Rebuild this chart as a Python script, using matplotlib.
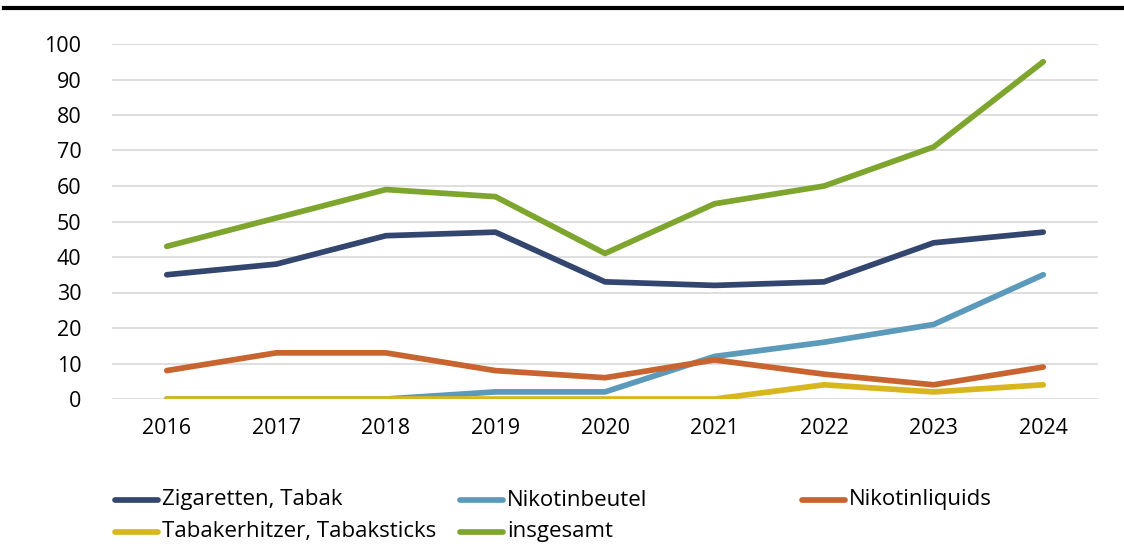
import numpy as np
import matplotlib.pyplot as plt
from matplotlib.lines import Line2D

plt.rcParams['font.family'] = ['Open Sans', 'DejaVu Sans']

years = ['2016', '2017', '2018', '2019', '2020', '2021', '2022', '2023', '2024']
zigaretten = [35, 38, 46, 47, 33, 32, 33, 44, 47]
nikotinbeutel = [0, 0, 0, 2, 2, 12, 16, 21, 35]
nikotinliquids = [8, 13, 13, 8, 6, 11, 7, 4, 9]
tabakerhitzer = [0, 0, 0, 0, 0, 0, 4, 2, 4]
insgesamt = [43, 51, 59, 57, 41, 55, 60, 71, 95]

labels = ['Zigaretten, Tabak', 'Nikotinbeutel', 'Nikotinliquids',
          'Tabakerhitzer, Tabaksticks', 'insgesamt']
colors = ['#33466F', '#5B9ABA', '#C8642F', '#D8B71E', '#7EA52E']
series = [zigaretten, nikotinbeutel, nikotinliquids, tabakerhitzer, insgesamt]

W, H = 1124, 546
fig = plt.figure(figsize=(W/100, H/100), dpi=100)
ax = fig.add_axes([112/W, 1 - 399/H, (1098-112)/W, (399-44)/H])

x = np.arange(len(years))
for s, c, l in zip(series, colors, labels):
    ax.plot(x, s, color=c, lw=4.1, solid_capstyle='round',
            solid_joinstyle='round', label=l)

ax.set_xlim(-0.5, len(years) - 0.5)
ax.set_ylim(0, 100)
ax.set_yticks(range(0, 101, 10))
ax.set_xticks(x)
ax.set_xticklabels(years)
ax.grid(axis='y', color='#D9D9D9', lw=1.2)
ax.set_axisbelow(True)
for sp in ax.spines.values():
    sp.set_visible(False)
ax.tick_params(length=0, labelsize=15.5, colors='#000000')
ax.tick_params(axis='y', pad=22)
ax.tick_params(axis='x', pad=14)

# black rule at top
fig.add_artist(Line2D([0.004, 1.0], [1 - 8/H, 1 - 8/H], color='black',
                      lw=3, transform=fig.transFigure))

# legend laid out like the original: 3 columns, 2 rows
leg_x = [113, 458, 800]
leg_y = [500, 532]
for i, (c, l) in enumerate(zip(colors, labels)):
    px = leg_x[i % 3]
    py = leg_y[i // 3]
    fig.add_artist(Line2D([(px + 2)/W, (px + 45)/W], [1 - py/H, 1 - py/H],
                          color=c, lw=4.1, solid_capstyle='round',
                          transform=fig.transFigure))
    fig.text((px + 49)/W, 1 - py/H, l, fontsize=16, va='center', ha='left')

fig.savefig('out.png', dpi=100)
